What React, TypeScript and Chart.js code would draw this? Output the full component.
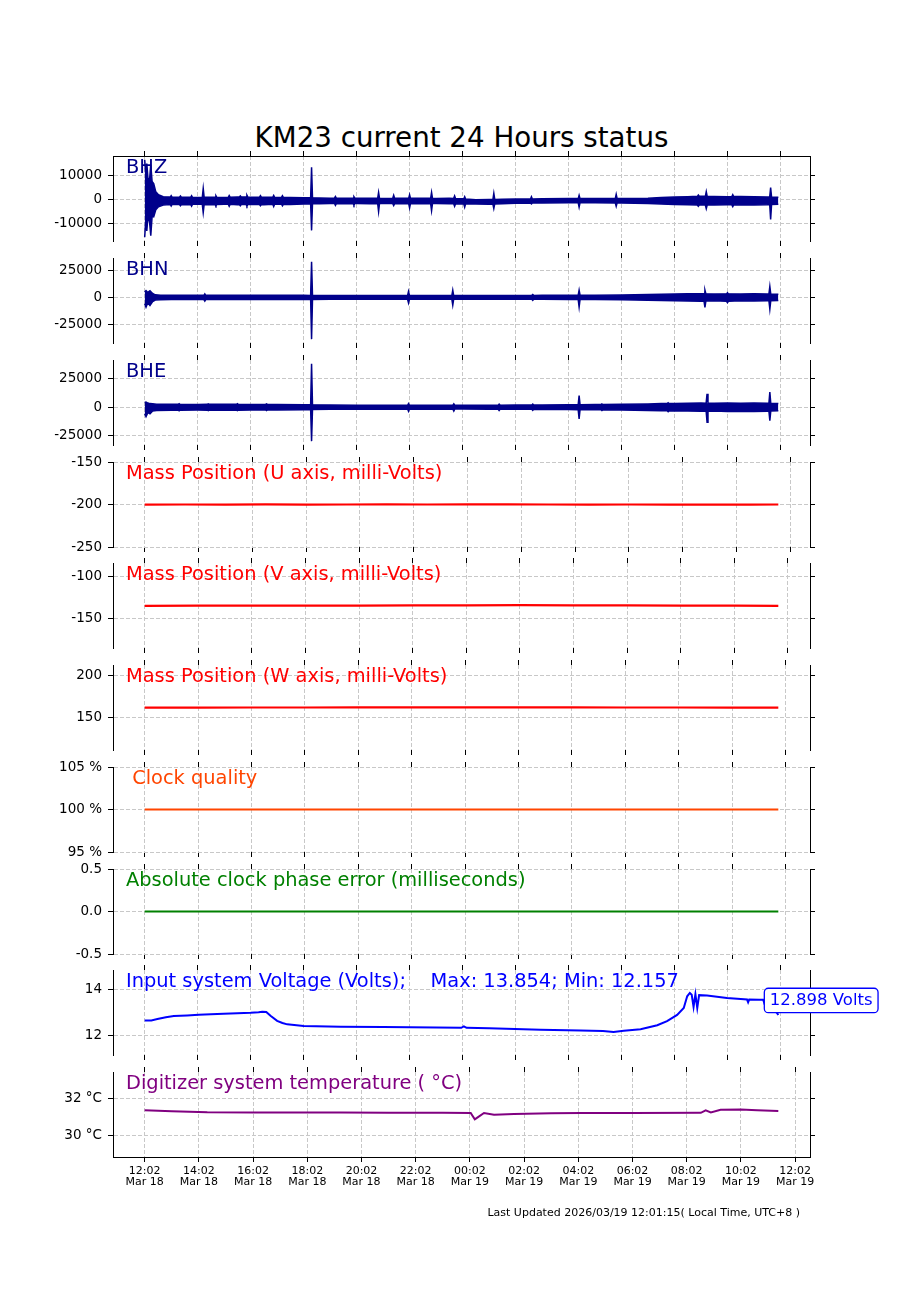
import React, { useEffect, useRef } from 'react';
import { Chart, registerables } from 'chart.js';

Chart.register(...registerables);

const FONT = '"DejaVu Sans", "Liberation Sans", sans-serif';

const TITLE = 'KM23 current 24 Hours status';
const FOOTER = 'Last Updated 2026/03/19 12:01:15( Local Time, UTC+8 )';
const TIME_LABELS = ['12:02', '14:02', '16:02', '18:02', '20:02', '22:02', '00:02', '02:02', '04:02', '06:02', '08:02', '10:02', '12:02'];
const DATE_LABELS = ['Mar 18', 'Mar 18', 'Mar 18', 'Mar 18', 'Mar 18', 'Mar 18', 'Mar 19', 'Mar 19', 'Mar 19', 'Mar 19', 'Mar 19', 'Mar 19', 'Mar 19'];
const TICK_STEP_HOURS = 2;

type Env = [number, number, number]; // [hours since 12:02 Mar 18, min, max]
type Pt = [number, number]; // [hours, value]

// ---- BHZ envelope (counts)
const BHZ_BAND: Env[] = [
  [0.0, -15600, 16500], [0.04, -9000, 11000], [0.08, -13000, 15000], [0.13, -6000, 8000],
  [0.19, -10000, 9000], [0.23, -15000, 14500], [0.28, -7000, 7500], [0.34, -7200, 6600],
  [0.42, -4200, 3200], [0.52, -3000, 2000], [0.7, -2300, 1200], [1.0, -2000, 1000],
  [1.5, -2100, 1000], [2.0, -1900, 900], [2.5, -2100, 1000], [3.0, -1900, 900],
  [3.5, -2100, 1100], [4.0, -2000, 1000], [4.5, -2100, 1000], [5.0, -1900, 900],
  [5.5, -2000, 900], [6.0, -1800, 800], [6.6, -1700, 700], [7.0, -1600, 600],
  [7.5, -1700, 600], [8.0, -1600, 600], [8.5, -1700, 600], [9.0, -1600, 500],
  [9.5, -1700, 600], [10.0, -1600, 500], [10.5, -1700, 600], [11.0, -1600, 500],
  [11.5, -1700, 600], [12.0, -1800, 300], [12.5, -1800, -100], [13.0, -1900, 0],
  [13.5, -1700, 100], [14.0, -1500, 200], [15.0, -1400, 300], [16.0, -1300, 400],
  [17.0, -1300, 400], [18.0, -1400, 400], [19.0, -1600, 600], [19.5, -1800, 900],
  [20.0, -2000, 1100], [20.5, -2100, 1200], [21.0, -2300, 1400], [21.5, -2200, 1300],
  [22.0, -2100, 1200], [22.5, -2300, 1300], [23.0, -2200, 1200], [23.5, -2100, 1100],
  [23.92, -1900, 1000],
];
const BHZ_SPIKES: Env[] = [
  [1.0, -2700, 1600], [1.35, -2600, 1500], [1.77, -2700, 1600], [2.21, -5400, 4600],
  [2.69, -2600, 1600], [3.19, -2800, 1700], [3.61, -2600, 1500], [3.86, -2700, 1800],
  [4.37, -2600, 1600], [4.87, -2900, 1700], [5.2, -2600, 1600], [6.3, -12800, 13400],
  [7.2, -2400, 1300], [7.9, -2300, 1200], [8.83, -5000, 3000], [9.4, -2500, 1800],
  [10.0, -3500, 2000], [10.83, -4600, 3000], [11.7, -2800, 1500], [12.08, -3200, 1200],
  [13.18, -3700, 2600], [14.6, -1800, 1200], [16.4, -3200, 1800], [17.8, -2800, 2200],
  [20.9, -2800, 1900], [21.2, -3800, 3300], [22.2, -2900, 2000], [23.63, -8300, 5000],
];

// ---- BHN envelope (counts)
const BHN_BAND: Env[] = [
  [0.0, -6000, 5000], [0.05, -9100, 6300], [0.12, -5000, 4500], [0.2, -7500, 6000],
  [0.3, -4000, 3500], [0.4, -2600, 2300], [0.6, -2200, 2000], [1, -2100, 1900],
  [2, -2000, 1800], [3, -2100, 1900], [4, -2000, 1800], [5, -2100, 1900],
  [6, -2000, 1800], [7, -1900, 1700], [8, -1900, 1700], [9, -1800, 1700],
  [10, -1900, 1700], [11, -1800, 1600], [12, -1800, 1700], [13, -1900, 1700],
  [14, -1800, 1700], [15, -1900, 1800], [16, -2000, 1900], [17, -2100, 2000],
  [18, -2300, 2200], [19, -2700, 2600], [19.5, -3000, 2900], [20, -3200, 3100],
  [20.5, -3300, 3200], [21, -3600, 3400], [21.5, -3200, 3000], [22, -3700, 3200],
  [22.5, -3200, 3000], [23, -3400, 3200], [23.5, -3200, 3100], [23.92, -3000, 2800],
];
const BHN_SPIKES: Env[] = [
  [2.27, -3500, 3200], [6.3, -38700, 32800], [9.96, -5200, 5500], [11.63, -7300, 6600],
  [14.65, -2800, 2600], [16.4, -9000, 6600], [21.15, -9400, 6600], [22.0, -5000, 4200],
  [23.6, -11000, 10000],
];

// ---- BHE envelope (counts)
const BHE_BAND: Env[] = [
  [0.0, -6000, 4000], [0.05, -8500, 4400], [0.12, -5000, 3500], [0.2, -6000, 3000],
  [0.3, -3500, 2800], [0.45, -3000, 2500], [1, -2800, 2400], [2, -2700, 2300],
  [3, -2900, 2400], [4, -2700, 2300], [5, -2600, 2200], [6, -2400, 2000],
  [7, -2000, 1700], [8, -1900, 1600], [9, -1900, 1600], [10, -1800, 1500],
  [11, -1900, 1600], [12, -1800, 1500], [13, -1900, 1600], [14, -2000, 1700],
  [15, -2100, 1800], [16, -2300, 2000], [17, -2400, 2100], [18, -2700, 2400],
  [19, -3000, 2700], [19.5, -3300, 3000], [20, -3500, 3200], [20.5, -3600, 3300],
  [21, -3800, 3500], [21.5, -3600, 3300], [22, -3900, 3600], [22.5, -3700, 3400],
  [23, -3900, 3500], [23.5, -3700, 3400], [23.92, -3400, 3100],
];
const BHE_SPIKES: Env[] = [
  [1.3, -3300, 2900], [2.4, -3200, 2800], [3.5, -3300, 2900], [4.6, -3200, 2800],
  [6.3, -30150, 38100], [9.96, -3800, 3000], [11.67, -3500, 2800], [13.38, -3000, 2500],
  [14.65, -3000, 2600], [16.4, -10500, 10200], [17.26, -3200, 2800], [19.76, -4200, 3800],
  [21.23, -13400, 11700], [23.6, -12000, 13100],
];

// ---- Mass positions (milli-Volts)
const MASS_U: Pt[] = [
  [0, -200.1], [1.5, -200.0], [3, -200.2], [4.5, -199.9], [6, -200.1], [7.5, -200.0],
  [9, -199.9], [10.5, -200.0], [12, -199.8], [13.5, -199.9], [15, -200.0], [16.5, -200.1],
  [18, -200.0], [19.5, -200.1], [21, -200.2], [22.5, -200.1], [23.55, -200.0],
];
const MASS_V: Pt[] = [
  [0, -134.5], [2, -134.4], [4, -134.3], [6, -134.3], [8, -134.2], [10, -134.1],
  [12, -133.9], [14, -133.8], [16, -133.9], [18, -134.1], [20, -134.3], [22, -134.4],
  [23.64, -134.5],
];
const MASS_W: Pt[] = [
  [0, 161.8], [2, 161.9], [4, 162.0], [6, 162.0], [8, 162.1], [10, 162.1],
  [12, 162.2], [14, 162.2], [16, 162.1], [18, 162.0], [20, 162.0], [22, 161.9],
  [23.73, 161.8],
];

// ---- Clock
const CLOCK_QUALITY: Pt[] = [[0, 100], [6, 100], [12, 100], [18, 100], [23.73, 100]];
const PHASE_ERROR: Pt[] = [[0, 0], [6, 0], [12, 0], [18, 0], [23.73, 0]];

// ---- Input voltage (Volts)
const VOLTAGE: Pt[] = [
  [0, 12.66], [0.25, 12.66], [0.48, 12.72], [0.8, 12.8], [1.1, 12.85], [1.6, 12.88],
  [2.04, 12.91], [2.5, 12.93], [2.98, 12.95], [3.5, 12.97], [4.0, 12.99], [4.3, 13.02],
  [4.44, 13.04], [4.59, 13.03], [4.75, 12.86], [5.0, 12.64], [5.2, 12.55], [5.38, 12.49],
  [6.0, 12.42], [7.4, 12.39], [9.0, 12.37], [11.0, 12.35], [11.95, 12.34], [12.05, 12.4],
  [12.15, 12.34], [13.0, 12.32], [14.94, 12.25], [16.45, 12.22], [17.3, 12.2], [17.7, 12.157],
  [18.09, 12.21], [18.72, 12.28], [19.35, 12.45], [19.72, 12.63], [20.1, 12.9], [20.35, 13.2],
  [20.48, 13.71], [20.58, 13.854], [20.65, 13.78], [20.72, 13.25], [20.79, 13.8], [20.86, 13.2],
  [20.93, 13.76], [21.23, 13.74], [21.98, 13.64], [22.5, 13.59], [22.74, 13.57], [22.78, 13.45],
  [22.82, 13.57], [23.2, 13.56], [23.35, 13.56], [23.38, 13.45], [23.42, 13.56], [23.56, 13.56],
  [23.6, 13.14], [23.75, 13.05], [23.85, 13.02], [23.92, 12.898],
];

// ---- Digitizer temperature (deg C)
const TEMPERATURE: Pt[] = [
  [0, 31.36], [0.5, 31.34], [1.0, 31.31], [2.31, 31.26], [4, 31.25], [5, 31.25],
  [7.23, 31.24], [9, 31.23], [11, 31.23], [12.03, 31.22], [12.18, 30.88], [12.3, 31.0],
  [12.52, 31.22], [12.89, 31.13], [13.63, 31.16], [15, 31.2], [16.09, 31.22], [18, 31.22],
  [20.52, 31.23], [20.7, 31.36], [20.89, 31.25], [21.25, 31.39], [21.99, 31.4], [22.6, 31.36],
  [23.38, 31.33],
];

// ---- layout constants (pixels)
const PANEL_TOPS = [156, 258, 360, 462, 563, 665, 767, 869, 970, 1072];
const PANEL_H = 85;
const AXIS_LEFT = 113;
const AXIS_RIGHT = 810;
const CANVAS_W = 900;
const PAD = 14;
const PAD_LAST = 46;
const GRID_COLOR = '#c8c8c8';
const GRID_DASH = [4, 2];
const LABEL_FONT_PX = 19.4;

function interp(band: Env[], t: number, k: number): number {
  if (t <= band[0][0]) return band[0][k];
  for (let i = 1; i < band.length; i++) {
    if (t <= band[i][0]) {
      const a = band[i - 1];
      const b = band[i];
      const f = (t - a[0]) / (b[0] - a[0]);
      return a[k] + (b[k] - a[k]) * f;
    }
  }
  return band[band.length - 1][k];
}

function buildEnvelope(band: Env[], spikes: Env[]): Env[] {
  const HW = 0.035;
  const rows: Env[] = band.filter((r) => !spikes.some((s) => Math.abs(r[0] - s[0]) < HW * 1.5));
  for (const s of spikes) {
    rows.push([s[0] - HW, interp(band, s[0] - HW, 1), interp(band, s[0] - HW, 2)]);
    rows.push(s);
    rows.push([s[0] + HW, interp(band, s[0] + HW, 1), interp(band, s[0] + HW, 2)]);
  }
  rows.sort((a, b) => a[0] - b[0]);
  return rows;
}

const margin5 = (lo: number, hi: number): [number, number] => [lo - 0.05 * (hi - lo), hi + 0.05 * (hi - lo)];
const around = (h: number) => (lo: number, hi: number): [number, number] => [(lo + hi) / 2 - h, (lo + hi) / 2 + h];
const padBy = (d: number) => (lo: number, hi: number): [number, number] => [lo - d, hi + d];
const r6 = (v: number) => Math.round(v * 1e6) / 1e6;

// ticks at every multiple of `step` inside the scale's range
const stepTicks = (step: number) => (s: any) => {
  const out: { value: number }[] = [];
  const k0 = Math.ceil(s.min / step - 1e-9);
  for (let k = k0; k * step <= s.max + 1e-9; k++) out.push({ value: r6(k * step) + 0 });
  s.ticks = out;
};

interface PanelDef {
  label: (p: PanelDef) => string;
  color: string;
  env?: Env[];
  line?: Pt[];
  width: number;
  yRange: (lo: number, hi: number) => [number, number];
  yStep: number;
  yFmt: (v: number) => string;
  annot?: boolean;
}

const plain = (v: number) => String(v);

const PANELS: PanelDef[] = [
  { label: () => 'BHZ', color: '#00008b', env: buildEnvelope(BHZ_BAND, BHZ_SPIKES), width: 1.5, yRange: margin5, yStep: 10000, yFmt: plain },
  { label: () => 'BHN', color: '#00008b', env: buildEnvelope(BHN_BAND, BHN_SPIKES), width: 1.5, yRange: margin5, yStep: 25000, yFmt: plain },
  { label: () => 'BHE', color: '#00008b', env: buildEnvelope(BHE_BAND, BHE_SPIKES), width: 1.5, yRange: margin5, yStep: 25000, yFmt: plain },
  { label: () => 'Mass Position (U axis, milli-Volts)', color: '#ff0000', line: MASS_U, width: 2.2, yRange: around(50), yStep: 50, yFmt: plain },
  { label: () => 'Mass Position (V axis, milli-Volts)', color: '#ff0000', line: MASS_V, width: 2.2, yRange: around(50), yStep: 50, yFmt: plain },
  { label: () => 'Mass Position (W axis, milli-Volts)', color: '#ff0000', line: MASS_W, width: 2.2, yRange: around(50), yStep: 50, yFmt: plain },
  { label: () => ' Clock quality', color: '#ff4500', line: CLOCK_QUALITY, width: 2, yRange: around(5), yStep: 5, yFmt: (v) => `${v} %` },
  { label: () => 'Absolute clock phase error (milliseconds)', color: '#008000', line: PHASE_ERROR, width: 2, yRange: around(0.5), yStep: 0.5, yFmt: (v) => v.toFixed(1) },
  {
    label: (p) => {
      const vals = (p.line || []).map((r) => r[1]);
      return `Input system Voltage (Volts);    Max: ${Math.max(...vals).toFixed(3)}; Min: ${Math.min(...vals).toFixed(3)}`;
    },
    color: '#0000ff', line: VOLTAGE, width: 2, yRange: padBy(1), yStep: 2, yFmt: plain, annot: true,
  },
  { label: () => 'Digitizer system temperature ( °C)', color: '#800080', line: TEMPERATURE, width: 2, yRange: padBy(2), yStep: 2, yFmt: (v) => `${v} °C` },
];

const panelPlugin = {
  id: 'panelText',
  beforeDatasetsDraw(chart: any, _args: any, opts: any) {
    const { ctx, chartArea } = chart;
    ctx.save();
    ctx.font = `${LABEL_FONT_PX}px ${FONT}`;
    ctx.fillStyle = opts.color;
    ctx.textBaseline = 'alphabetic';
    ctx.textAlign = 'left';
    ctx.fillText(opts.text, chartArea.left + 13, chartArea.top + 16.7);
    ctx.restore();
  },
  afterDraw(chart: any, _args: any, opts: any) {
    if (!opts.annot) return;
    const { ctx } = chart;
    const meta = chart.getDatasetMeta(0);
    const lastEl = meta.data[meta.data.length - 1];
    const data = chart.data.datasets[0].data;
    const v = data[data.length - 1].y;
    const text = `${v.toFixed(3)} Volts`;
    ctx.save();
    ctx.font = `16.5px ${FONT}`;
    const w = ctx.measureText(text).width;
    const bx = lastEl.x - 14;
    const cy = lastEl.y - 14.5;
    const bw = w + 11;
    const bh = 24.4;
    const by = cy - bh / 2;
    const r = 4;
    ctx.beginPath();
    ctx.moveTo(bx + r, by);
    ctx.lineTo(bx + bw - r, by);
    ctx.arcTo(bx + bw, by, bx + bw, by + r, r);
    ctx.lineTo(bx + bw, by + bh - r);
    ctx.arcTo(bx + bw, by + bh, bx + bw - r, by + bh, r);
    ctx.lineTo(bx + r, by + bh);
    ctx.arcTo(bx, by + bh, bx, by + bh - r, r);
    ctx.lineTo(bx, by + r);
    ctx.arcTo(bx, by, bx + r, by, r);
    ctx.closePath();
    ctx.fillStyle = '#ffffff';
    ctx.fill();
    ctx.lineWidth = 1.3;
    ctx.strokeStyle = opts.color;
    ctx.stroke();
    ctx.fillStyle = opts.color;
    ctx.textBaseline = 'alphabetic';
    ctx.fillText(text, bx + 5.5, cy + 4.8);
    ctx.restore();
  },
};

function makeConfig(p: PanelDef, i: number, n: number): any {
  const isFirst = i === 0;
  const isLast = i === n - 1;
  const padBottom = isLast ? PAD_LAST : PAD;
  let times: number[];
  let los: number[];
  let his: number[];
  let datasets: any[];
  if (p.env) {
    times = p.env.map((r) => r[0]);
    los = p.env.map((r) => r[1]);
    his = p.env.map((r) => r[2]);
    datasets = [
      { data: p.env.map((r) => ({ x: r[0], y: r[2] })), borderColor: p.color, borderWidth: p.width, fill: false, pointRadius: 0 },
      { data: p.env.map((r) => ({ x: r[0], y: r[1] })), borderColor: p.color, borderWidth: p.width, backgroundColor: p.color, fill: '-1', pointRadius: 0 },
    ];
  } else {
    const line = p.line || [];
    times = line.map((r) => r[0]);
    los = line.map((r) => r[1]);
    his = los;
    datasets = [
      { data: line.map((r) => ({ x: r[0], y: r[1] })), borderColor: p.color, borderWidth: p.width, fill: false, pointRadius: 0 },
    ];
  }
  const t0 = Math.min(...times);
  const t1 = Math.max(...times);
  const xm = 0.05 * (t1 - t0);
  const xMin = t0 - xm;
  const xMax = t1 + xm;
  const [yMinRaw, yMaxRaw] = p.yRange(Math.min(...los), Math.max(...his));
  const yMin = r6(yMinRaw);
  const yMax = r6(yMaxRaw);

  const xTicks = {
    autoSkip: false,
    maxRotation: 0,
    minRotation: 0,
    padding: 4,
    color: '#000000',
    font: { family: FONT, size: 11, lineHeight: 1 },
    callback: (v: number) => {
      const k = Math.round(v / TICK_STEP_HOURS);
      return [TIME_LABELS[k] || '', DATE_LABELS[k] || ''];
    },
  };

  const tickGrid = { drawTicks: true, tickLength: 5, tickColor: '#000000', tickWidth: 1, tickBorderDash: [] };

  return {
    type: 'line',
    data: { datasets },
    options: {
      animation: false,
      responsive: false,
      devicePixelRatio: 1,
      events: [],
      layout: { padding: 0, autoPadding: false },
      elements: { point: { radius: 0 }, line: { tension: 0 } },
      plugins: {
        legend: { display: false },
        tooltip: { enabled: false },
        panelText: { text: p.label(p), color: p.color, annot: !!p.annot },
      },
      scales: {
        x: {
          type: 'linear',
          position: 'bottom',
          min: xMin,
          max: xMax,
          ticks: { ...xTicks, display: isLast },
          grid: { display: true, drawOnChartArea: true, color: GRID_COLOR, lineWidth: 1, ...tickGrid },
          border: { display: isLast, color: '#000000', width: 1, dash: GRID_DASH },
          afterBuildTicks: stepTicks(TICK_STEP_HOURS),
          afterFit: (s: any) => { s.height = padBottom; s.paddingLeft = 0; s.paddingRight = 0; s.paddingTop = 0; s.paddingBottom = 0; },
        },
        x2: {
          type: 'linear',
          position: 'top',
          min: xMin,
          max: xMax,
          ticks: { ...xTicks, display: false },
          grid: { display: true, drawOnChartArea: false, color: GRID_COLOR, ...tickGrid },
          border: { display: isFirst, color: '#000000', width: 1 },
          afterBuildTicks: stepTicks(TICK_STEP_HOURS),
          afterFit: (s: any) => { s.height = PAD; s.paddingLeft = 0; s.paddingRight = 0; s.paddingTop = 0; s.paddingBottom = 0; },
        },
        y: {
          type: 'linear',
          position: 'left',
          min: yMin,
          max: yMax,
          ticks: {
            padding: 6,
            color: '#000000',
            font: { family: FONT, size: 13.5 },
            callback: (v: number) => p.yFmt(v),
          },
          grid: { display: true, drawOnChartArea: true, color: GRID_COLOR, lineWidth: 1, ...tickGrid },
          border: { display: true, color: '#000000', width: 1, dash: GRID_DASH },
          afterBuildTicks: stepTicks(p.yStep),
          afterFit: (s: any) => { s.width = AXIS_LEFT; s.paddingTop = 0; s.paddingBottom = 0; s.paddingLeft = 0; s.paddingRight = 0; },
        },
        y2: {
          type: 'linear',
          position: 'right',
          min: yMin,
          max: yMax,
          ticks: { display: false },
          grid: { display: true, drawOnChartArea: false, color: GRID_COLOR, ...tickGrid },
          border: { display: true, color: '#000000', width: 1 },
          afterBuildTicks: stepTicks(p.yStep),
          afterFit: (s: any) => { s.width = CANVAS_W - AXIS_RIGHT; s.paddingTop = 0; s.paddingBottom = 0; s.paddingLeft = 0; s.paddingRight = 0; },
        },
      },
    },
    plugins: [panelPlugin],
  };
}

export default function App() {
  const refs = useRef<(HTMLCanvasElement | null)[]>([]);

  useEffect(() => {
    const charts: Chart[] = [];
    PANELS.forEach((p, i) => {
      const el = refs.current[i];
      if (el) charts.push(new Chart(el, makeConfig(p, i, PANELS.length)));
    });
    return () => {
      charts.forEach((c) => c.destroy());
    };
  }, []);

  return (
    <div style={{ position: 'absolute', left: 0, top: 0, width: 900, height: 1300, background: '#ffffff', fontFamily: FONT, color: '#000' }}>
      <div style={{ position: 'absolute', left: 0, top: 123.6, width: AXIS_LEFT + AXIS_RIGHT, textAlign: 'center', fontSize: 27.7, lineHeight: 1, whiteSpace: 'pre' }}>
        {TITLE}
      </div>
      {PANELS.map((p, i) => {
        const isLast = i === PANELS.length - 1;
        const h = PANEL_H + PAD + (isLast ? PAD_LAST : PAD);
        return (
          <canvas
            key={i}
            ref={(el) => { refs.current[i] = el; }}
            width={CANVAS_W}
            height={h}
            style={{ position: 'absolute', left: 0, top: PANEL_TOPS[i] - PAD, width: CANVAS_W, height: h }}
          />
        );
      })}
      <div style={{ position: 'absolute', left: 0, top: 1207.2, width: 800, textAlign: 'right', fontSize: 11, lineHeight: 1, whiteSpace: 'pre' }}>
        {FOOTER}
      </div>
    </div>
  );
}
